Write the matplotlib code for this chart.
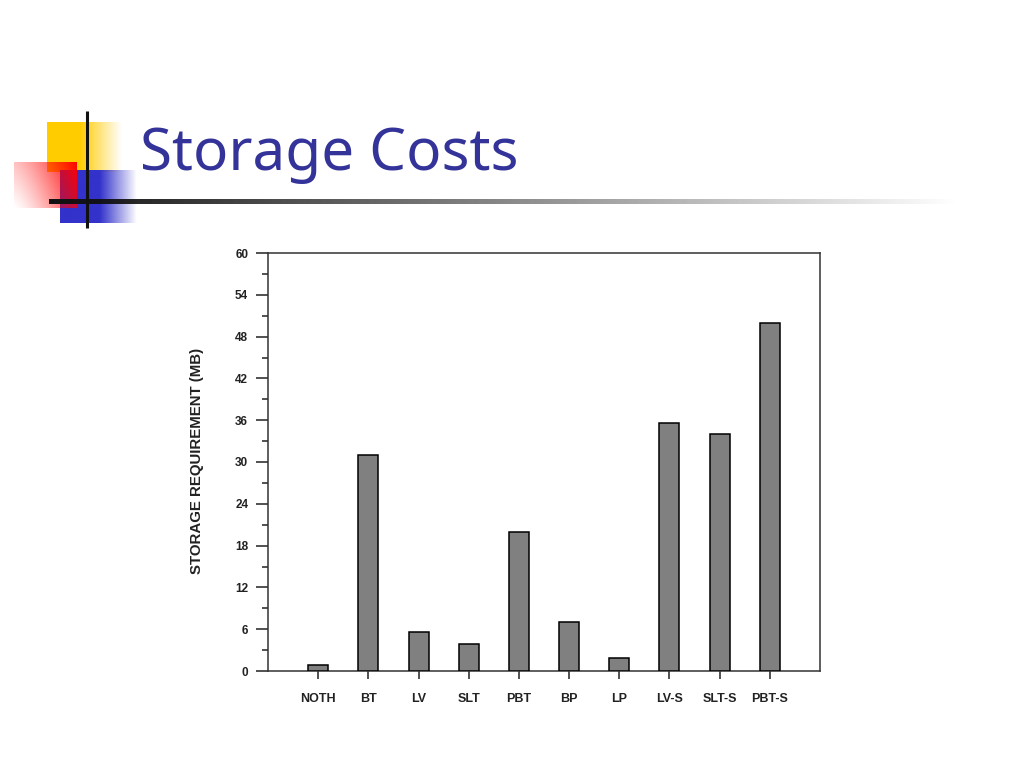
import matplotlib
matplotlib.use('Agg')
import matplotlib.pyplot as plt
import matplotlib.colors as mcolors
import numpy as np
from matplotlib.ticker import MultipleLocator

# ---- data ----
categories = ['NOTH', 'BT', 'LV', 'SLT', 'PBT', 'BP', 'LP', 'LV-S', 'SLT-S', 'PBT-S']
storage_mb = [0.9, 31.0, 5.6, 3.9, 20.0, 7.0, 1.9, 35.6, 34.0, 50.0]
y_ticks = [0, 6, 12, 18, 24, 30, 36, 42, 48, 54, 60]
title_text = 'Storage Costs'
ylabel_text = 'STORAGE REQUIREMENT (MB)'

W, H = 1024, 768
fig = plt.figure(figsize=(W / 100, H / 100), dpi=100)
fig.patch.set_facecolor('white')

# ---- slide decoration ----
deco = fig.add_axes([0, 0, 1, 1], zorder=0)
deco.axis('off')


def grad_rect(ax, x0, x1, y0, y1, color, alpha_fn, n=200):
    xs = np.linspace(0, 1, n)
    ys = np.linspace(0, 1, n)
    XF, YF = np.meshgrid(xs, ys)
    rgba = np.zeros((n, n, 4))
    rgba[..., :3] = mcolors.to_rgb(color)
    rgba[..., 3] = np.clip(alpha_fn(XF, YF), 0, 1)
    ax.imshow(rgba, extent=(x0, x1, y1, y0), aspect='auto',
              interpolation='bilinear')


# yellow square (solid then fading right)
grad_rect(deco, 47, 122, 122, 172, '#FFCC00',
          lambda xf, yf: (1 - xf) / (1 - 33 / 75))
# blue square
grad_rect(deco, 60, 137, 170, 223, '#3333CC',
          lambda xf, yf: (1 - xf) / (1 - 40 / 77))
# red rectangle (diagonal fade)
grad_rect(deco, 14, 77, 162, 208, '#FF0000',
          lambda xf, yf: 0.75 * xf ** 1.3 + 0.25 * (1 - yf))
# horizontal rule, dark to white
grad_rect(deco, 49, 960, 199, 204, '#111111',
          lambda xf, yf: 1 - xf)
# vertical black line
deco.plot([87, 87], [111, 228], color='#111111', lw=2.2, solid_capstyle='butt')
deco.set_xlim(0, W)
deco.set_ylim(H, 0)

fig.text(140 / W, 1 - 170 / H, title_text, fontsize=42, color='#333399',
         family='Noto Sans', va='baseline', ha='left')

# ---- chart ----
ax = fig.add_axes([268 / W, 97 / H, 552 / W, 418 / H], zorder=1)
x = np.arange(len(categories))
ax.bar(x, storage_mb, width=0.4, color='#808080', edgecolor='black',
       linewidth=1.1, zorder=3)
ax.set_xlim(-1, len(categories))
ax.set_ylim(0, 60)
ax.set_xticks(x)
ax.set_xticklabels(categories, fontsize=9, fontweight='bold',
                   family='Liberation Sans')
ax.set_yticks(y_ticks)
ax.set_yticklabels([str(v) for v in y_ticks], fontsize=8.5,
                   fontweight='bold', family='Liberation Sans')
ax.yaxis.set_minor_locator(MultipleLocator(3))
ax.tick_params(axis='y', which='major', direction='out', length=8.8,
               width=1.1, pad=5.5, colors='#222222')
ax.tick_params(axis='y', which='minor', direction='out', length=4.5,
               width=1.1, colors='#222222')
ax.tick_params(axis='x', which='major', direction='out', length=6,
               width=1.1, pad=10, colors='#222222')
for s in ax.spines.values():
    s.set_linewidth(1.1)
    s.set_color('#333333')

fig.text(197 / W, 1 - 461 / H, ylabel_text, rotation=90, ha='center',
         va='center', fontsize=10.8, fontweight='bold',
         family='Liberation Sans', color='#222222')

fig.savefig('out.png', dpi=100)
